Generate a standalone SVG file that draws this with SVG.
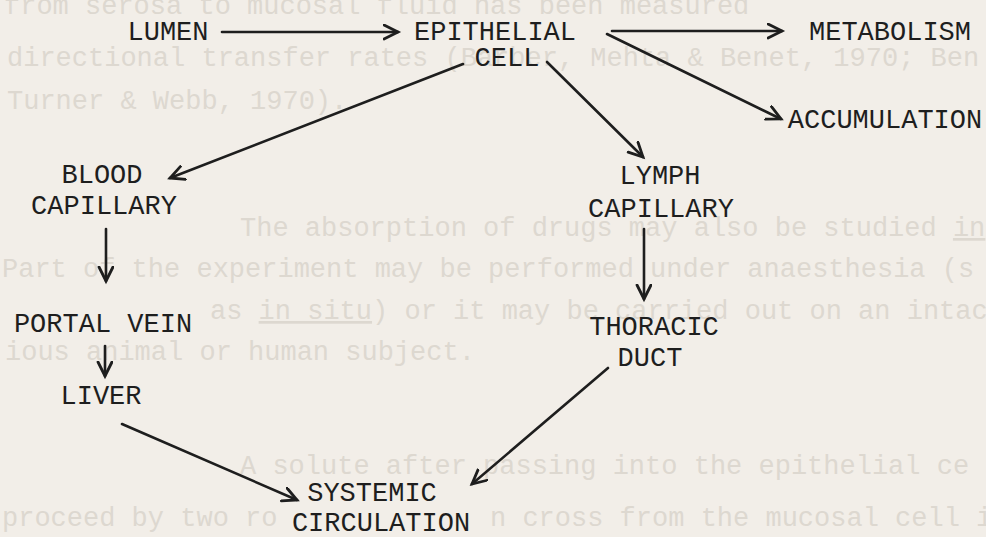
<svg xmlns="http://www.w3.org/2000/svg" width="986" height="537" viewBox="0 0 986 537">
<defs>
<style>
.bg{font-family:"Liberation Mono","DejaVu Sans Mono",monospace;font-size:27px;fill:#ddd8d0}
.n{font-family:"Liberation Mono","DejaVu Sans Mono",monospace;font-size:27px;fill:#1e1e1e;text-anchor:middle}
.c line{stroke:#1e1e1e;stroke-width:2.6;stroke-linecap:round;fill:none;marker-end:url(#ah)}
</style>
<marker id="ah" markerUnits="userSpaceOnUse" markerWidth="20" markerHeight="20" viewBox="0 0 20 20" refX="15" refY="8" orient="auto">
<path d="M1,1 L15,8 L1,15" fill="none" stroke="#1e1e1e" stroke-width="2.8" stroke-linecap="round" stroke-linejoin="miter"/>
</marker>
</defs>
<rect width="986" height="537" fill="#f2eee8"/>
<g id="background-text" class="bg">
<text x="4" y="14">from serosa to mucosal fluid has been measured</text>
<text x="7" y="66">directional transfer rates (Barber, Mehta &amp; Benet, 1970; Ben</text>
<text x="7" y="109">Turner &amp; Webb, 1970).</text>
<text x="240" y="236">The absorption of drugs may also be studied <tspan text-decoration="underline">in</tspan></text>
<text x="2" y="277">Part of the experiment may be performed under anaesthesia (s</text>
<text x="210" y="319">as <tspan text-decoration="underline">in situ</tspan>) or it may be carried out on an intac</text>
<text x="5" y="360">ious animal or human subject.</text>
<text x="240" y="474">A solute after passing into the epithelial ce</text>
<text x="2" y="526">proceed by two ro</text>
<text x="490" y="526">n cross from the mucosal cell i</text>
</g>
<g id="connectors" class="c">
<line x1="222" y1="32" x2="398" y2="32"/>
<line x1="612" y1="31" x2="782" y2="31"/>
<line x1="607" y1="34" x2="781" y2="119"/>
<line x1="547" y1="62" x2="643" y2="157"/>
<line x1="463" y1="64" x2="170" y2="178"/>
<line x1="106" y1="229" x2="106" y2="281"/>
<line x1="105" y1="346" x2="105" y2="376"/>
<line x1="122" y1="424" x2="297" y2="500"/>
<line x1="644" y1="229" x2="644" y2="299"/>
<line x1="608" y1="368" x2="472" y2="484"/>
</g>
<g id="lumen"><text class="n" x="168" y="40">LUMEN</text></g>
<g id="epithelial-cell"><text class="n" x="495" y="40">EPITHELIAL</text><text class="n" x="507" y="66">CELL</text></g>
<g id="metabolism"><text class="n" x="890" y="40">METABOLISM</text></g>
<g id="accumulation"><text class="n" x="885" y="128">ACCUMULATION</text></g>
<g id="blood-capillary"><text class="n" x="102" y="183">BLOOD</text><text class="n" x="104" y="214">CAPILLARY</text></g>
<g id="lymph-capillary"><text class="n" x="660" y="184">LYMPH</text><text class="n" x="661" y="217">CAPILLARY</text></g>
<g id="portal-vein"><text class="n" x="103" y="332">PORTAL VEIN</text></g>
<g id="liver"><text class="n" x="101" y="404">LIVER</text></g>
<g id="thoracic-duct"><text class="n" x="654" y="335">THORACIC</text><text class="n" x="650" y="366">DUCT</text></g>
<g id="systemic-circulation"><text class="n" x="372" y="501">SYSTEMIC</text><text class="n" x="381" y="531">CIRCULATION</text></g>
</svg>
